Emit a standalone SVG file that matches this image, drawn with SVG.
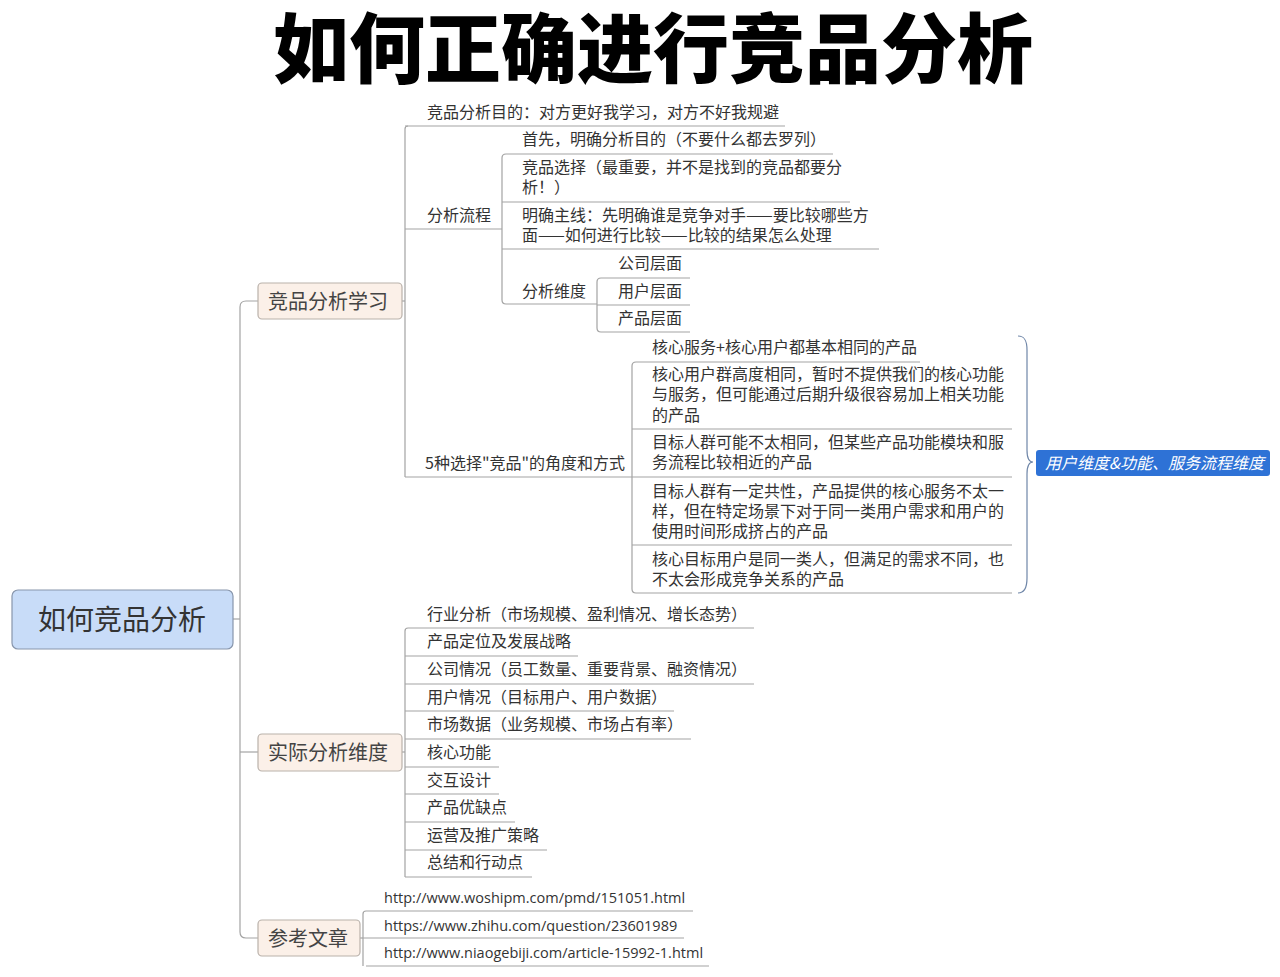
<svg xmlns="http://www.w3.org/2000/svg" width="1280" height="977" viewBox="0 0 1280 977">
<style>
.t{font-family:"Noto Sans CJK SC","Noto Sans",sans-serif;font-size:16px;fill:#333}
.u{font-family:"Open Sans","Noto Sans",sans-serif;font-size:14.5px;fill:#333}
.b{font-family:"Noto Sans CJK SC",sans-serif;font-size:20px;fill:#444}
.ln{stroke:#a3a3a3;stroke-width:1.2;fill:none}
.bx{fill:#fbf0e8;stroke:#b9b1aa;stroke-width:1.2}
</style>
<rect width="1280" height="977" fill="#fff"/>
<g id="title"><text x="653" y="77" text-anchor="middle" style="font-family:'Noto Sans CJK SC',sans-serif;font-size:76px;font-weight:900;fill:#000">如何正确进行竞品分析</text></g>

<g id="connectors" class="ln">
<path d="M233,619 H240"/>
<path d="M258,301 H246 Q240,301 240,307 V932 Q240,938 246,938 H258"/>
<path d="M240,752 H258"/>
<path d="M402,301 H405"/>
<path d="M408,126 Q405,126 405,129 V477"/>
<path d="M506,154 Q502,154 502,158 V300 Q502,304 506,304"/>
<path d="M601,278 Q597,278 597,282 V328 Q597,332 601,332"/>
<path d="M636,362 Q632,362 632,366 V589 Q632,593 636,593"/>
<path d="M402,752 H405"/>
<path d="M408,628 Q405,628 405,631 V877"/>
<path d="M360,938 H363"/>
<path d="M366,911 Q363,911 363,914 V966"/>
<path d="M1018,336 C1025,336 1027,341 1027,350 L1027,450 C1027,458 1029,462 1033,462 C1029,462 1027,466 1027,474 L1027,578 C1027,587 1025,593 1018,593" style="stroke:#6f86a8"/>
</g>

<g id="root"><rect x="12" y="590" width="221" height="59" rx="6" fill="#c8dcf8" stroke="#8896ac" stroke-width="1.2"/><text x="122" y="630" text-anchor="middle" style="font-family:'Noto Sans CJK SC',sans-serif;font-size:28px;fill:#333">如何竞品分析</text></g>

<g id="n-learn"><rect class="bx" x="258" y="283" width="144" height="36" rx="4"/><text class="b" x="268" y="309">竞品分析学习</text></g>
<g id="n-actual"><rect class="bx" x="258" y="734" width="144" height="37" rx="4"/><text class="b" x="268" y="760">实际分析维度</text></g>
<g id="n-ref"><rect class="bx" x="258" y="920" width="102" height="36" rx="4"/><text class="b" x="268" y="946">参考文章</text></g>

<g id="n-purpose"><text class="t" x="427" y="118">竞品分析目的：对方更好我学习，对方不好我规避</text><path class="ln" d="M405,126 H785"/></g>
<g id="n-process"><text class="t" x="427" y="221">分析流程</text><path class="ln" d="M405,229 H502"/></g>
<g id="n-first"><text class="t" x="522" y="145">首先，明确分析目的（不要什么都去罗列）</text><path class="ln" d="M506,154 H833"/></g>
<g id="n-select"><text class="t" x="522" y="173">竞品选择（最重要，并不是找到的竞品都要分</text><text class="t" x="522" y="193">析！）</text><path class="ln" d="M502,202 H850"/></g>
<g id="n-main"><text class="t" x="522" y="221">明确主线：先明确谁是竞争对手——要比较哪些方</text><text class="t" x="522" y="241">面——如何进行比较——比较的结果怎么处理</text><path class="ln" d="M502,249 H879"/></g>
<g id="n-dim"><text class="t" x="522" y="297">分析维度</text><path class="ln" d="M506,304 H597"/></g>
<g id="n-company"><text class="t" x="618" y="269">公司层面</text><path class="ln" d="M601,278 H690"/></g>
<g id="n-user"><text class="t" x="618" y="297">用户层面</text><path class="ln" d="M597,305 H690"/></g>
<g id="n-product"><text class="t" x="618" y="324">产品层面</text><path class="ln" d="M601,332 H690"/></g>

<g id="n-five"><text class="t" x="425" y="469">5种选择"竞品"的角度和方式</text><path class="ln" d="M405,477 H632"/></g>
<g id="n-c1"><text class="t" x="652" y="353">核心服务+核心用户都基本相同的产品</text><path class="ln" d="M636,362 H920"/></g>
<g id="n-c2"><text class="t" x="652" y="380">核心用户群高度相同，暂时不提供我们的核心功能</text><text class="t" x="652" y="400">与服务，但可能通过后期升级很容易加上相关功能</text><text class="t" x="652" y="421">的产品</text><path class="ln" d="M632,429 H1012"/></g>
<g id="n-c3"><text class="t" x="652" y="448">目标人群可能不太相同，但某些产品功能模块和服</text><text class="t" x="652" y="468">务流程比较相近的产品</text><path class="ln" d="M632,477 H1012"/></g>
<g id="n-c4"><text class="t" x="652" y="497">目标人群有一定共性，产品提供的核心服务不太一</text><text class="t" x="652" y="517">样，但在特定场景下对于同一类用户需求和用户的</text><text class="t" x="652" y="537">使用时间形成挤占的产品</text><path class="ln" d="M632,545 H1012"/></g>
<g id="n-c5"><text class="t" x="652" y="565">核心目标用户是同一类人，但满足的需求不同，也</text><text class="t" x="652" y="585">不太会形成竞争关系的产品</text><path class="ln" d="M636,593 H1012"/></g>

<g id="n-summary"><rect x="1036" y="450" width="234" height="26" rx="3" fill="#2e72d6"/><text x="1045" y="469" style="font-family:'Noto Sans CJK SC',sans-serif;font-size:16px;font-style:italic;fill:#fff">用户维度&amp;功能、服务流程维度</text></g>

<g id="n-a1"><text class="t" x="427" y="620">行业分析（市场规模、盈利情况、增长态势）</text><path class="ln" d="M408,628 H754"/></g>
<g id="n-a2"><text class="t" x="427" y="647">产品定位及发展战略</text><path class="ln" d="M405,656 H578"/></g>
<g id="n-a3"><text class="t" x="427" y="675">公司情况（员工数量、重要背景、融资情况）</text><path class="ln" d="M405,684 H754"/></g>
<g id="n-a4"><text class="t" x="427" y="703">用户情况（目标用户、用户数据）</text><path class="ln" d="M405,711 H674"/></g>
<g id="n-a5"><text class="t" x="427" y="730">市场数据（业务规模、市场占有率）</text><path class="ln" d="M405,739 H691"/></g>
<g id="n-a6"><text class="t" x="427" y="758">核心功能</text><path class="ln" d="M405,767 H499"/></g>
<g id="n-a7"><text class="t" x="427" y="786">交互设计</text><path class="ln" d="M405,794 H499"/></g>
<g id="n-a8"><text class="t" x="427" y="813">产品优缺点</text><path class="ln" d="M405,822 H515"/></g>
<g id="n-a9"><text class="t" x="427" y="841">运营及推广策略</text><path class="ln" d="M405,850 H547"/></g>
<g id="n-a10"><text class="t" x="427" y="868">总结和行动点</text><path class="ln" d="M405,877 H532"/></g>

<g id="n-r1"><text class="u" x="384" y="903">http://www.woshipm.com/pmd/151051.html</text><path class="ln" d="M366,911 H693"/></g>
<g id="n-r2"><text class="u" x="384" y="931">https://www.zhihu.com/question/23601989</text><path class="ln" d="M363,938 H684"/></g>
<g id="n-r3"><text class="u" x="384" y="958">http://www.niaogebiji.com/article-15992-1.html</text><path class="ln" d="M366,966 H709"/></g>
</svg>
